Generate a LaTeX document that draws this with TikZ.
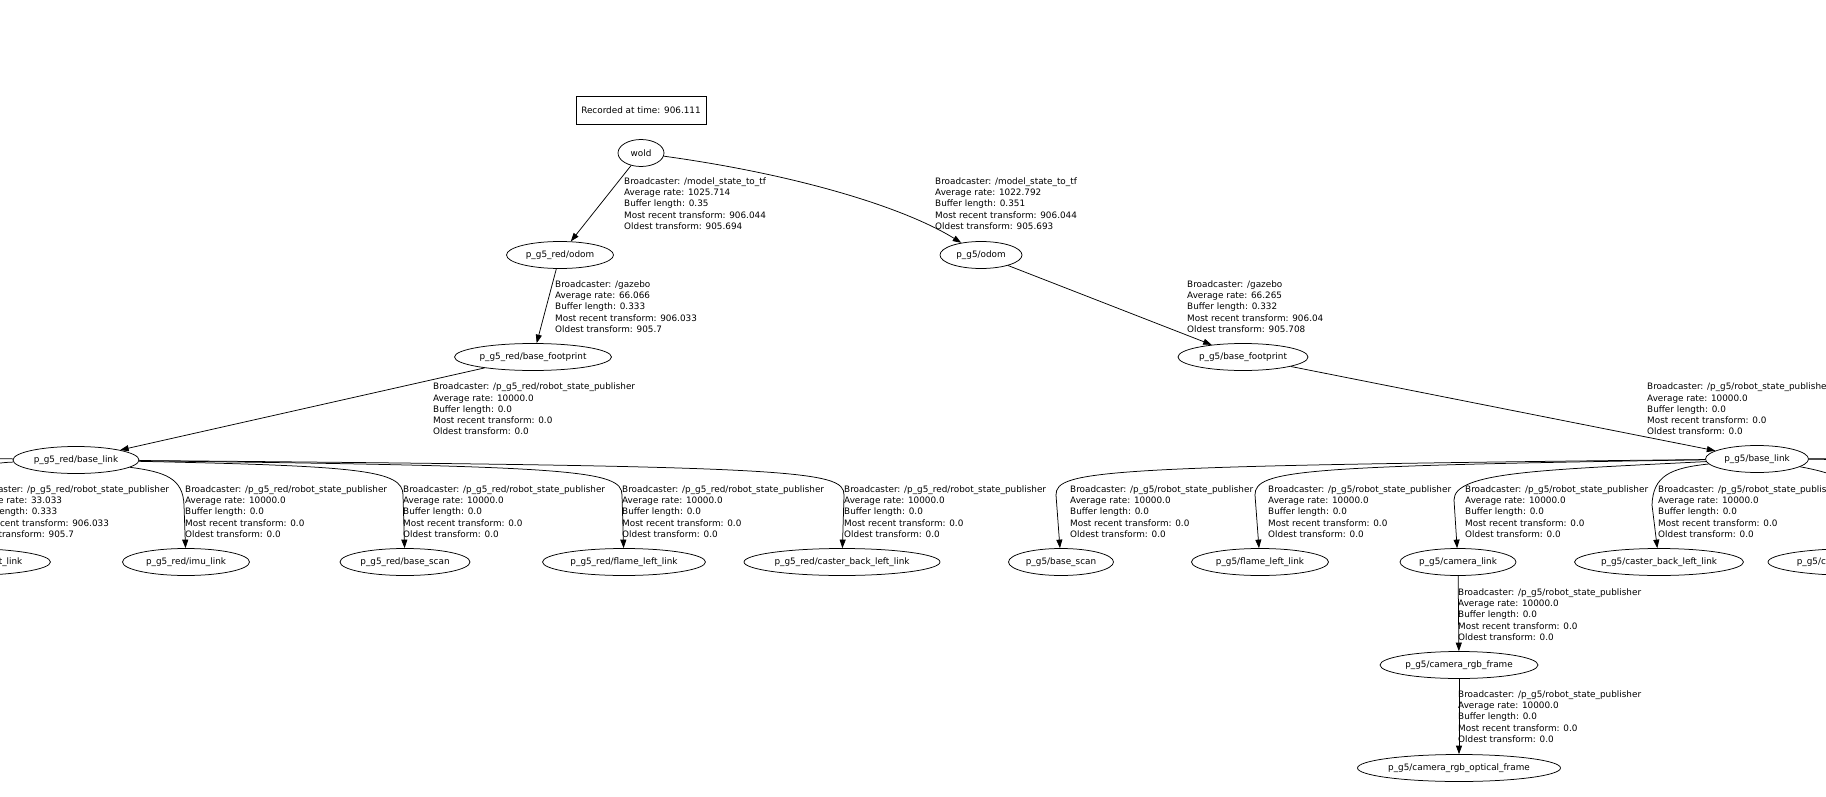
\documentclass[tikz,border=0pt]{standalone}
\usepackage{fontspec}
\setmainfont{DejaVu Sans}
\usetikzlibrary{shapes.geometric,arrows.meta}
\newcommand{\tfinfo}[5]{Broadcaster: #1\\Average rate: #2\\Buffer length: #3\\Most recent transform: #4\\Oldest transform: #5}
\tikzset{
  tfframe/.style={ellipse, draw, inner sep=0pt, minimum height=27, line width=0.75pt},
  info/.style={anchor=north west, inner sep=0pt, align=left},
  tfedge/.style={-{Triangle[length=8.5pt,width=6pt]}, line width=0.75pt}
}
\begin{document}
\begin{tikzpicture}[x=1pt, y=-1pt, font=\fontsize{8.85pt}{11.2pt}\selectfont]
  \useasboundingbox (0,0) rectangle (1826,797);
  \clip (0,0) rectangle (1826,797);

  \node[draw, line width=0.75pt, inner sep=0pt, minimum width=130, minimum height=28] (rec) at (641,110) {Recorded at time: 906.111};

  % frames
  \node[tfframe, minimum width=46] (wold) at (641,153) {wold};
  \node[tfframe, minimum width=107] (redodom) at (560,255) {p\_g5\_red/odom};
  \node[tfframe, minimum width=82] (gfodom) at (981,255) {p\_g5/odom};
  \node[tfframe, minimum width=157] (redfoot) at (533,357) {p\_g5\_red/base\_footprint};
  \node[tfframe, minimum width=130] (gffoot) at (1243,357) {p\_g5/base\_footprint};
  \node[tfframe, minimum width=126] (redbase) at (76,460) {p\_g5\_red/base\_link};
  \node[tfframe, minimum width=103] (gfbase) at (1757,459) {p\_g5/base\_link};

  \node[tfframe, minimum width=171] (redwheel) at (-35,562) {p\_g5\_red/wheel\_right\_link};
  \node[tfframe, minimum width=127] (redimu) at (186,562) {p\_g5\_red/imu\_link};
  \node[tfframe, minimum width=130] (redscan) at (405,562) {p\_g5\_red/base\_scan};
  \node[tfframe, minimum width=163] (redflame) at (624,562) {p\_g5\_red/flame\_left\_link};
  \node[tfframe, minimum width=196] (redcaster) at (842,562) {p\_g5\_red/caster\_back\_left\_link};
  \node[tfframe, minimum width=105] (gfscan) at (1061,562) {p\_g5/base\_scan};
  \node[tfframe, minimum width=137] (gfflame) at (1260,562) {p\_g5/flame\_left\_link};
  \node[tfframe, minimum width=116] (gfcam) at (1458,562) {p\_g5/camera\_link};
  \node[tfframe, minimum width=169] (gfcaster) at (1659,562) {p\_g5/caster\_back\_left\_link};
  \node[tfframe, minimum width=180] (gfcaster2) at (1858,562) {p\_g5/caster\_back\_right\_link};
  \node[tfframe, minimum width=158] (gfrgb) at (1459,665) {p\_g5/camera\_rgb\_frame};
  \node[tfframe, minimum width=203] (gfoptical) at (1459,768) {p\_g5/camera\_rgb\_optical\_frame};

  \coordinate (redoff) at (-260,549);
  \coordinate (gfoffa) at (2040,549);
  \coordinate (gfoffb) at (2230,549);

  % transforms
  \draw[tfedge] (wold) -- (redodom);
  \draw[tfedge] (wold) .. controls (800,175) and (905,208) .. (gfodom);
  \draw[tfedge] (redodom) -- (redfoot);
  \draw[tfedge] (gfodom) -- (gffoot);
  \draw[tfedge] (redfoot) -- (redbase);
  \draw[tfedge] (gffoot) -- (gfbase);

  \draw[tfedge] (redbase) .. controls (-150,456) and (-260,462) .. (-260,495) -- (redoff);
  \draw[tfedge] (redbase) .. controls (-15,463) and (-34,470) .. (-34,495) -- (redwheel);
  \draw[tfedge] (redbase) .. controls (165,472) and (183,478) .. (184,505) -- (redimu);
  \foreach \child/\cx/\px in {redscan/403/360, redflame/622/575, redcaster/844/800}
    \draw[tfedge] (redbase) .. controls (\px,466) and (\cx,470) .. (\cx,495) -- (\child);

  \foreach \child/\cx/\px in {gfscan/1056/1100, gfflame/1255/1300}
    \draw[tfedge] (gfbase) .. controls (\px,466) and (\cx,470) .. (\cx,495) -- (\child);
  \draw[tfedge] (gfbase) .. controls (1540,470) and (1454,472) .. (1454,500) -- (gfcam);
  \draw[tfedge] (gfbase) .. controls (1670,468) and (1653,476) .. (1652,505) -- (gfcaster);
  \draw[tfedge] (gfbase) .. controls (1840,474) and (1862,485) .. (1862,505) -- (gfcaster2);
  \draw[tfedge] (gfbase) .. controls (1950,460) and (2040,466) .. (2040,495) -- (gfoffa);
  \draw[tfedge] (gfbase) .. controls (2100,458) and (2230,464) .. (2230,495) -- (gfoffb);
  \draw[tfedge] (gfcam) -- (gfrgb);
  \draw[tfedge] (gfrgb) -- (gfoptical);

  % transform info
  \node[info] (lblwoldred) at (624,177.5) {\tfinfo{/model\_state\_to\_tf}{1025.714}{0.35}{906.044}{905.694}};
  \node[info] (lblwoldgf) at (935,177.5) {\tfinfo{/model\_state\_to\_tf}{1022.792}{0.351}{906.044}{905.693}};
  \node[info] (lblodomred) at (555,280.5) {\tfinfo{/gazebo}{66.066}{0.333}{906.033}{905.7}};
  \node[info] (lblodomgf) at (1187,280.5) {\tfinfo{/gazebo}{66.265}{0.332}{906.04}{905.708}};
  \node[info] (lblfootred) at (433,383) {\tfinfo{/p\_g5\_red/robot\_state\_publisher}{10000.0}{0.0}{0.0}{0.0}};
  \node[info] (lblfootgf) at (1647,383) {\tfinfo{/p\_g5/robot\_state\_publisher}{10000.0}{0.0}{0.0}{0.0}};
  \node[info] (lblredwheel) at (-33,485.5) {\tfinfo{/p\_g5\_red/robot\_state\_publisher}{33.033}{0.333}{906.033}{905.7}};
  \foreach \x/\n in {185/imu, 403/scan, 622/flame, 844/caster}
    \node[info] (lblred\n) at (\x,485.5) {\tfinfo{/p\_g5\_red/robot\_state\_publisher}{10000.0}{0.0}{0.0}{0.0}};
  \foreach \x/\n in {1070/scan, 1268/flame, 1465/cam, 1658/caster}
    \node[info] (lblgf\n) at (\x,485.5) {\tfinfo{/p\_g5/robot\_state\_publisher}{10000.0}{0.0}{0.0}{0.0}};
  \node[info] (lblgfrgb) at (1458,588.5) {\tfinfo{/p\_g5/robot\_state\_publisher}{10000.0}{0.0}{0.0}{0.0}};
  \node[info] (lblgfoptical) at (1458,690.5) {\tfinfo{/p\_g5/robot\_state\_publisher}{10000.0}{0.0}{0.0}{0.0}};
\end{tikzpicture}
\end{document}
